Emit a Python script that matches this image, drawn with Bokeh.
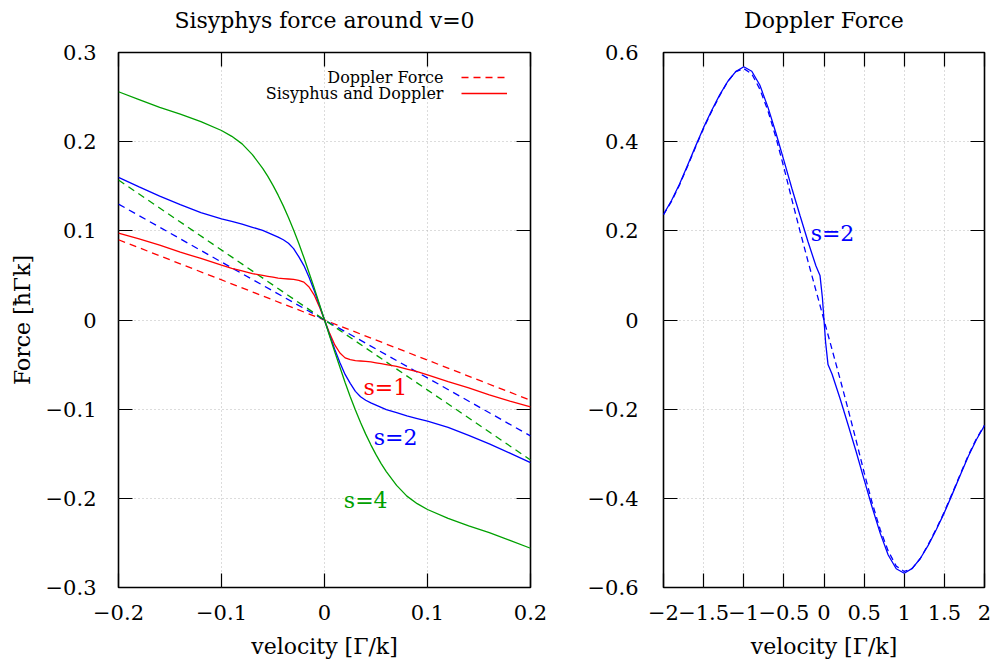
from bokeh.plotting import figure
from bokeh.layouts import row
from bokeh.models import (LinearAxis, FixedTicker, CustomJSTickFormatter, Range1d,
                          Label, Legend, LegendItem)
from bokeh.embed import file_html
from bokeh.resources import INLINE

# ---------------- data: left panel (Sisyphus force around v=0) ----------------
v_left = [-0.2, -0.18, -0.16, -0.14, -0.12, -0.1, -0.09, -0.08, -0.07, -0.06, -0.055,
          -0.05, -0.045, -0.04, -0.035, -0.03, -0.025, -0.02, -0.015, -0.01, -0.005, 0.0,
          0.005, 0.01, 0.015, 0.02, 0.025, 0.03, 0.035, 0.04, 0.045, 0.05, 0.055, 0.06,
          0.07, 0.08, 0.09, 0.1, 0.12, 0.14, 0.16, 0.18, 0.2]
sis_s1 = [0.0975, 0.091, 0.084, 0.076, 0.069, 0.0615, 0.058, 0.055, 0.052, 0.050, 0.049,
          0.048, 0.047, 0.0465, 0.046, 0.0455, 0.0445, 0.0425, 0.037, 0.028, 0.015, 0.0,
          -0.015, -0.028, -0.037, -0.0425, -0.0445, -0.0455, -0.046, -0.0465, -0.047, -0.048,
          -0.049, -0.050, -0.052, -0.055, -0.058, -0.0615, -0.069, -0.076, -0.084, -0.091, -0.0975]
sis_s2 = [0.160, 0.1493, 0.139, 0.1295, 0.1205, 0.1135, 0.1105, 0.1075, 0.104, 0.1005, 0.098,
          0.0955, 0.093, 0.090, 0.086, 0.080, 0.071, 0.061, 0.048, 0.033, 0.017, 0.0,
          -0.017, -0.033, -0.048, -0.061, -0.071, -0.080, -0.086, -0.090, -0.093, -0.0955,
          -0.098, -0.1005, -0.104, -0.1075, -0.1105, -0.1135, -0.1205, -0.1295, -0.139, -0.1493, -0.160]
sis_s4 = [0.256, 0.2472, 0.2385, 0.231, 0.2225, 0.2125, 0.206, 0.1975, 0.1855, 0.170, 0.161,
          0.151, 0.140, 0.128, 0.115, 0.101, 0.086, 0.070, 0.053, 0.036, 0.018, 0.0,
          -0.018, -0.036, -0.053, -0.070, -0.086, -0.101, -0.115, -0.128, -0.140, -0.151,
          -0.161, -0.170, -0.1855, -0.1975, -0.206, -0.2125, -0.2225, -0.231, -0.2385, -0.2472, -0.256]
dop_v = [-0.2, 0.2]
dop_s1 = [0.090, -0.090]
dop_s2 = [0.130, -0.130]
dop_s4 = [0.157, -0.157]

# ---------------- data: right panel (Doppler force, s=2) ----------------
v_right = [-2.0, -1.9, -1.8, -1.7, -1.6, -1.5, -1.4, -1.3, -1.2, -1.1, -1.0, -0.9, -0.8,
           -0.7, -0.6, -0.5, -0.4, -0.3, -0.2, -0.1, -0.05, -0.02, 0.0, 0.02, 0.05, 0.1,
           0.2, 0.3, 0.4, 0.5, 0.6, 0.7, 0.8, 0.9, 1.0, 1.1, 1.2, 1.3, 1.4, 1.5, 1.6, 1.7,
           1.8, 1.9, 2.0]
full_s2 = [0.237, 0.268, 0.305, 0.347, 0.390, 0.432, 0.470, 0.505, 0.535, 0.557, 0.568,
           0.558, 0.527, 0.478, 0.420, 0.358, 0.295, 0.235, 0.176, 0.121, 0.100, 0.050,
           0.0, -0.050, -0.100, -0.121, -0.176, -0.235, -0.295, -0.358, -0.420, -0.478,
           -0.527, -0.558, -0.568, -0.557, -0.535, -0.505, -0.470, -0.432, -0.390, -0.347,
           -0.305, -0.268, -0.237]
v_dop = [-2.0, -1.9, -1.8, -1.7, -1.6, -1.5, -1.4, -1.3, -1.2, -1.1, -1.0, -0.9, -0.8,
         -0.7, -0.6, -0.5, -0.4, -0.3, -0.2, -0.1, 0.0, 0.1, 0.2, 0.3, 0.4, 0.5, 0.6, 0.7,
         0.8, 0.9, 1.0, 1.1, 1.2, 1.3, 1.4, 1.5, 1.6, 1.7, 1.8, 1.9, 2.0]
dop_only = [0.236, 0.266, 0.303, 0.345, 0.388, 0.430, 0.468, 0.503, 0.535, 0.557, 0.564,
            0.552, 0.518, 0.470, 0.410, 0.342, 0.270, 0.200, 0.132, 0.066, 0.0, -0.066,
            -0.132, -0.200, -0.270, -0.342, -0.410, -0.470, -0.518, -0.552, -0.564, -0.557,
            -0.535, -0.503, -0.468, -0.430, -0.388, -0.345, -0.303, -0.266, -0.236]

left_xticks = [-0.2, -0.1, 0.0, 0.1, 0.2]
left_yticks = [-0.3, -0.2, -0.1, 0.0, 0.1, 0.2, 0.3]
right_xticks = [-2.0, -1.5, -1.0, -0.5, 0.0, 0.5, 1.0, 1.5, 2.0]
right_yticks = [-0.6, -0.4, -0.2, 0.0, 0.2, 0.4, 0.6]

FONT = "DejaVu Serif"
RED, BLUE, GREEN = "#ff0000", "#0000ff", "#00a000"
LW = 1.3
FRAME_H = 535

FMT_CODE = """
const r = Math.round(tick * 100) / 100;
const s = (Math.abs(r) < 1e-9) ? "0" : String(r);
return s.replace("-", "\u2212");
"""


def style(p, xticks, yticks, title, ylabel_std, xlabel, ylabel):
    p.title.text = title
    p.title.align = "center"
    p.title.text_font = FONT
    p.title.text_font_size = "22px"
    p.title.text_font_style = "normal"
    p.title.text_color = "black"
    p.title.standoff = 10
    p.outline_line_color = "black"
    p.outline_line_width = 1.6
    p.outline_line_alpha = 1.0
    p.background_fill_color = "white"
    p.border_fill_color = "white"
    xt = FixedTicker(ticks=xticks, minor_ticks=[])
    yt = FixedTicker(ticks=yticks, minor_ticks=[])
    bx = p.below[0]
    ly = p.left[0]
    for ax, t in ((bx, xt), (ly, yt)):
        ax.ticker = t
        ax.formatter = CustomJSTickFormatter(code=FMT_CODE)
        ax.axis_line_color = None
        ax.major_tick_in = 14
        ax.major_tick_out = 0
        ax.major_tick_line_color = "black"
        ax.major_tick_line_width = 1.2
        ax.minor_tick_line_color = None
        ax.major_label_text_font = FONT
        ax.major_label_text_font_size = "21px"
        ax.major_label_text_color = "black"
        ax.axis_label_text_font = FONT
        ax.axis_label_text_font_size = "22px"
        ax.axis_label_text_font_style = "normal"
        ax.axis_label_text_color = "black"
    bx.major_label_standoff = 17
    ly.major_label_standoff = ylabel_std
    bx.axis_label = xlabel
    bx.axis_label_standoff = 11
    if ylabel:
        ly.axis_label = ylabel
        ly.axis_label_standoff = 8
    for loc, t in (("above", xt), ("right", yt)):
        ax = LinearAxis(ticker=t, formatter=CustomJSTickFormatter(code="return '';"),
                        axis_line_color=None, major_tick_in=14, major_tick_out=0,
                        major_tick_line_color="black", major_tick_line_width=1.2,
                        minor_tick_line_color=None, major_label_standoff=0)
        if loc == "above":
            # blank spacer label that lifts the title away from the frame
            ax.axis_label = " "
            ax.axis_label_text_font_size = "1px"
            ax.axis_label_standoff = 11
        p.add_layout(ax, loc)
    for g, t in ((p.xgrid[0], xt), (p.ygrid[0], yt)):
        g.ticker = t
        g.grid_line_color = "#b8b8b8"
        g.grid_line_dash = "1 3"
        g.grid_line_width = 1


# ---------------- left figure ----------------
p1 = figure(frame_width=412, frame_height=FRAME_H, min_border_left=118, min_border_right=30,
            min_border_top=52, min_border_bottom=80,
            x_range=Range1d(-0.2, 0.2), y_range=Range1d(-0.3, 0.3),
            output_backend="svg", toolbar_location=None)
style(p1, left_xticks, left_yticks, "Sisyphys force around v=0", 22,
      "velocity [Γ/k]", "Force [ħΓk]")

dash = "7 5"
r_d1 = p1.line(dop_v, dop_s1, line_color=RED, line_width=LW, line_dash=dash)
p1.line(dop_v, dop_s2, line_color=BLUE, line_width=LW, line_dash=dash)
p1.line(dop_v, dop_s4, line_color=GREEN, line_width=LW, line_dash=dash)
r_s1 = p1.line(v_left, sis_s1, line_color=RED, line_width=LW)
p1.line(v_left, sis_s2, line_color=BLUE, line_width=LW)
p1.line(v_left, sis_s4, line_color=GREEN, line_width=LW)

# key: samples on the right, texts right-aligned to their left
legend = Legend(items=[LegendItem(label=" ", renderers=[r_d1]),
                       LegendItem(label=" ", renderers=[r_s1])],
                location=(343, 486), orientation="vertical", glyph_width=46,
                glyph_height=16, label_height=16, label_width=1, label_standoff=0,
                spacing=0, padding=0, margin=0, border_line_color=None,
                background_fill_alpha=0, label_text_font_size="2px")
p1.add_layout(legend, "center")
for txt, yy in (("Doppler Force", 510), ("Sisyphus and Doppler", 494)):
    p1.add_layout(Label(x=325, y=yy, x_units="screen", y_units="screen", text=txt,
                        text_align="right", text_baseline="middle", text_font=FONT,
                        text_font_size="16px", text_color="black"))

for txt, xx, yy, col in (("s=1", 0.059, -0.076, RED), ("s=2", 0.069, -0.132, BLUE),
                         ("s=4", 0.040, -0.202, GREEN)):
    p1.add_layout(Label(x=xx, y=yy, text=txt, text_align="center", text_baseline="middle",
                        text_font=FONT, text_font_size="22px", text_color=col))

# ---------------- right figure ----------------
p2 = figure(frame_width=321, frame_height=FRAME_H, min_border_left=103, min_border_right=8,
            min_border_top=52, min_border_bottom=80,
            x_range=Range1d(-2.0, 2.0), y_range=Range1d(-0.6, 0.6),
            output_backend="svg", toolbar_location=None)
style(p2, right_xticks, right_yticks, "Doppler Force", 25, "velocity [Γ/k]", None)
p2.line(v_dop, dop_only, line_color=BLUE, line_width=LW, line_dash="6 4")
p2.line(v_right, full_s2, line_color=BLUE, line_width=LW)
p2.add_layout(Label(x=0.106, y=0.194, text="s=2", text_align="center",
                    text_baseline="middle", text_font=FONT, text_font_size="22px",
                    text_color=BLUE))

layout = row(p1, p2)
open("out.html", "w").write(file_html(layout, INLINE))
